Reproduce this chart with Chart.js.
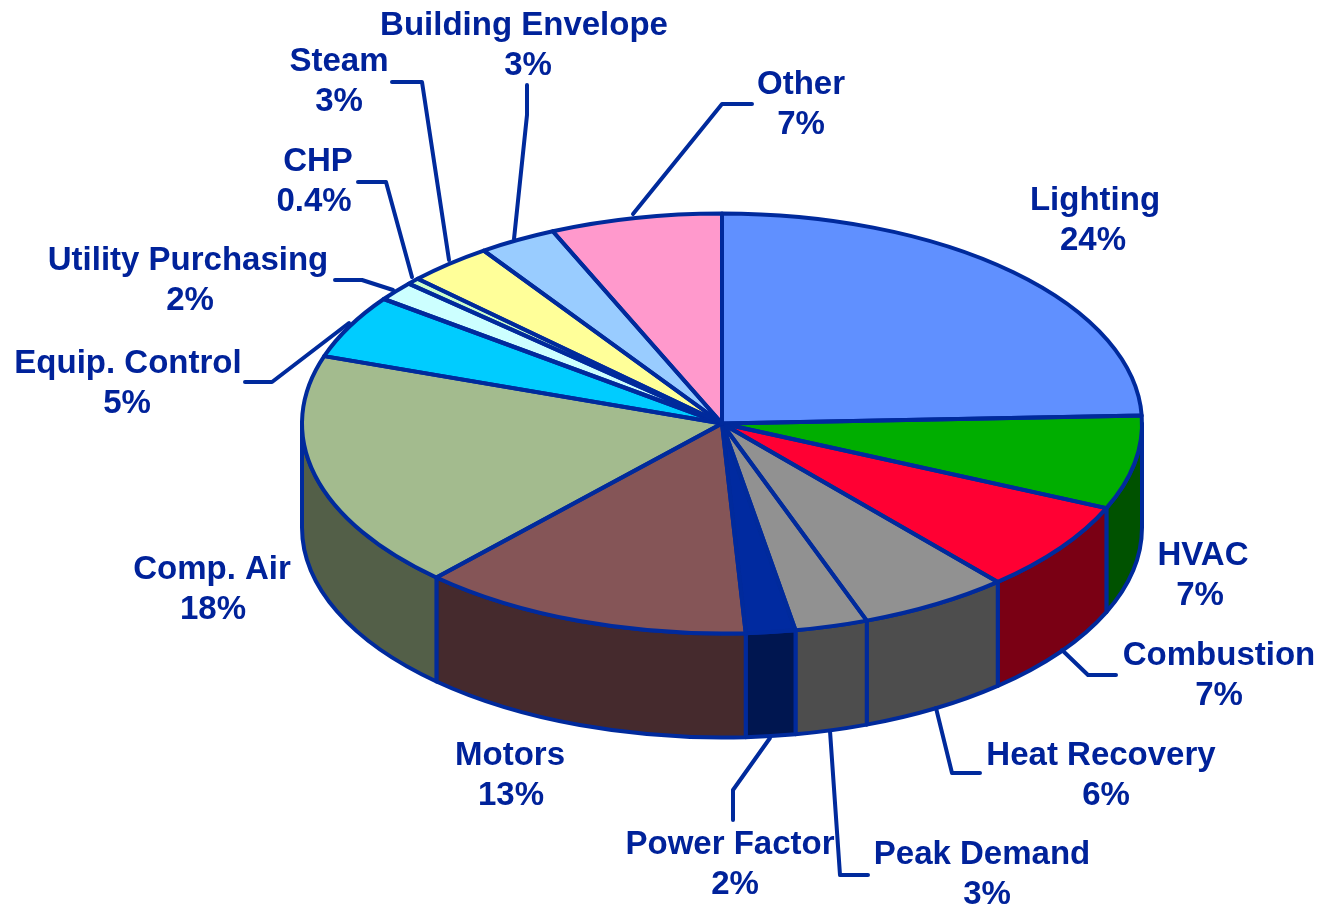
<!DOCTYPE html>
<html>
<head>
<meta charset="utf-8">
<title>Pie</title>
<style>
  html, body { margin: 0; padding: 0; background: #fff; overflow: hidden; }
  canvas { display: block; }
</style>
<script src="https://cdn.jsdelivr.net/npm/chart.js@4/dist/chart.umd.min.js"></script>
</head>
<body>
<canvas id="pie" width="1318" height="906"></canvas>
<script>
// Data
const categories = ['Lighting', 'HVAC', 'Combustion', 'Heat Recovery', 'Peak Demand', 'Power Factor', 'Motors',
  'Comp. Air', 'Equip. Control', 'Utility Purchasing', 'CHP', 'Steam', 'Building Envelope', 'Other'];
const shares = [24.4, 7.2, 7.0, 5.8, 2.8, 1.9, 12.8, 18.3, 4.9, 1.5, 0.5, 3.3, 3.0, 6.6];
const shareLabels = ['24%', '7%', '7%', '6%', '3%', '2%', '13%', '18%', '5%', '2%', '0.4%', '3%', '3%', '7%'];
const topColors = ['#6090ff', '#00ae00', '#ff0033', '#919191', '#919191', '#002aa0', '#855557',
  '#a3bb8e', '#00ccff', '#ccffff', '#ccffcc', '#ffff99', '#99ccff', '#ff99cc'];
const wallColors = ['#304880', '#005200', '#7a0014', '#4d4d4d', '#4d4d4d', '#001650', '#452a2d',
  '#535f48', '#006680', '#668080', '#668066', '#80804d', '#4d6680', '#804d66'];

// Look of the tilted pie
const squash = 0.5;
const depth = 104;
const lineColor = '#002a9c';
const textColor = '#00229a';

// Label places, [x of name, y of name, x of share]
const labelSpots = [
  [1095, 201, 1093], [1203, 556, 1200], [1219, 656, 1219], [1101, 756, 1106], [982, 855, 987],
  [730, 845, 735], [510, 756, 511], [212, 570, 213], [128, 364, 127], [188, 261, 190],
  [318, 162, 314], [339, 62, 339], [524, 26, 528], [801, 85, 801]
];
const labelGap = 40;

// Leader lines from the pie to the small labels
const leaders = [
  [[633, 214], [722, 104], [752, 104]],
  [[514, 239], [527, 115], [527, 85]],
  [[449, 260], [422, 82], [392, 82]],
  [[412, 277], [386, 182], [358, 182]],
  [[393, 290], [362, 280], [335, 280]],
  [[349, 323], [272, 382], [245, 382]],
  [[1062, 650], [1088, 675], [1116, 675]],
  [[936, 708], [952, 773], [980, 773]],
  [[830, 731], [840, 875], [868, 875]],
  [[770, 738], [733, 790], [733, 820]]
];

function setLine(ctx) {
  ctx.strokeStyle = lineColor;
  ctx.lineWidth = 4;
  ctx.lineJoin = 'round';
  ctx.lineCap = 'round';
}

const tiltedPie = {
  id: 'tiltedPie',
  // side walls go under the slices
  beforeDatasetsDraw(chart) {
    const ctx = chart.ctx;
    const arcs = chart.getDatasetMeta(0).data;
    ctx.save();
    setLine(ctx);
    arcs.forEach((arc, i) => {
      const from = Math.max(arc.startAngle, 0);
      const to = Math.min(arc.endAngle, Math.PI);
      if (to <= from) return;
      const r = arc.outerRadius;
      ctx.beginPath();
      ctx.ellipse(arc.x, arc.y, r, r * squash, 0, from, to);
      ctx.ellipse(arc.x, arc.y + depth, r, r * squash, 0, to, from, true);
      ctx.closePath();
      ctx.fillStyle = wallColors[i];
      ctx.fill();
      ctx.stroke();
    });
    ctx.restore();

    // slices are drawn by the library, only flattened
    const first = arcs[0];
    ctx.save();
    ctx.translate(first.x, first.y);
    ctx.scale(1, squash);
    ctx.translate(-first.x, -first.y);
  },
  afterDatasetsDraw(chart) {
    const ctx = chart.ctx;
    ctx.restore();

    ctx.save();
    setLine(ctx);
    chart.getDatasetMeta(0).data.forEach(arc => {
      const r = arc.outerRadius;
      ctx.beginPath();
      ctx.moveTo(arc.x, arc.y);
      ctx.ellipse(arc.x, arc.y, r, r * squash, 0, arc.startAngle, arc.endAngle);
      ctx.closePath();
      ctx.stroke();
    });

    leaders.forEach(pts => {
      ctx.beginPath();
      pts.forEach((p, n) => n ? ctx.lineTo(p[0], p[1]) : ctx.moveTo(p[0], p[1]));
      ctx.stroke();
    });

    ctx.fillStyle = textColor;
    ctx.font = 'bold 33px "Liberation Sans", Arial, sans-serif';
    ctx.textAlign = 'center';
    ctx.textBaseline = 'middle';
    categories.forEach((name, i) => {
      const spot = labelSpots[i];
      ctx.fillText(name, spot[0], spot[1]);
      ctx.fillText(shareLabels[i], spot[2], spot[1] + labelGap);
    });
    ctx.restore();
  }
};

new Chart(document.getElementById('pie'), {
  type: 'pie',
  data: {
    labels: categories,
    datasets: [{
      data: shares,
      backgroundColor: topColors,
      borderWidth: 0,
      hoverOffset: 0
    }]
  },
  options: {
    responsive: false,
    animation: false,
    events: [],
    layout: { padding: { left: 302, right: 176, top: 3, bottom: 62 } },
    plugins: {
      legend: { display: false },
      tooltip: { enabled: false }
    }
  },
  plugins: [tiltedPie]
});
</script>
</body>
</html>
